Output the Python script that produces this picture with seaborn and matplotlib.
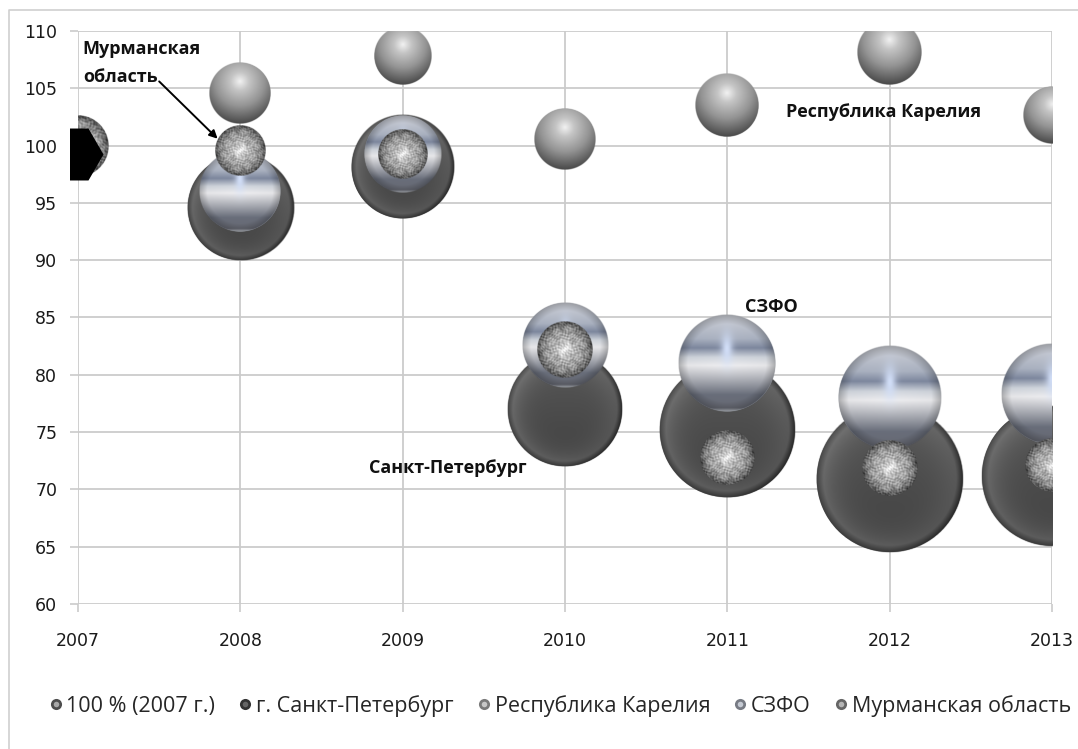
import numpy as np
import pandas as pd
import seaborn as sns
import matplotlib.pyplot as plt
from matplotlib.lines import Line2D
from matplotlib.patches import Rectangle
from matplotlib.legend_handler import HandlerTuple

# Данные диаграммы (индекс, 2007 = 100) и радиусы пузырьков в пикселях
years = [2007, 2008, 2009, 2010, 2011, 2012, 2013]
yticks = [60, 65, 70, 75, 80, 85, 90, 95, 100, 105, 110]

base_x = [2006.97]
base_y = [99.3]
base_r = [30]

spb_y = [None, 94.6, 98.1, 77.0, 75.2, 70.9, 71.2]
spb_r = [None, 53.5, 52, 58, 68.5, 74, 71]

kar_y = [None, 104.6, 107.8, 100.6, 103.5, 108.1, 102.7]
kar_r = [None, 31, 29, 31, 32, 32.5, 29]

szfo_y = [None, 96.0, 99.3, 82.6, 81.0, 78.0, 78.3]
szfo_r = [None, 41, 39, 43, 49, 52, 51]

mur_y = [100, 99.6, 99.3, 82.2, 72.8, 71.9, 72.1]
mur_r = [31, 25.5, 25, 28, 27.5, 28, 27]

legend_names = ['100 % (2007 г.)', 'г. Санкт-Петербург', 'Республика Карелия', 'СЗФО', 'Мурманская область']

W, H = 1078, 749
AX_L, AX_R, AX_T, AX_B = 78, 1052, 31, 604
px_x = (AX_R - AX_L) / 6
px_y = (AX_B - AX_T) / 50

sns.set_theme(style='white')
plt.rcParams['font.family'] = ['Open Sans', 'DejaVu Sans']


def sphere(kind, n=200):
    v, u = np.mgrid[1:-1:n * 1j, -1:1:n * 1j]
    r = np.sqrt(u ** 2 + v ** 2)
    if kind == 'spb':
        g = 0.3 + 0.16 * np.clip(r, 0, 1) ** 4 + 0.05 * v
        g = g - np.interp(r, [0.9, 1], [0, 0.2]) - 0.12 * np.clip(u, 0, 1) * r ** 6
        rgb = np.dstack([g, g, g])
    elif kind == 'kar':
        d = np.sqrt(u ** 2 + (v - 0.38) ** 2)
        g = np.interp(d, [0, 0.3, 0.8, 1.38], [0.95, 0.77, 0.58, 0.28])
        rgb = np.dstack([g, g, g])
    elif kind == 'szfo':
        pos = [-1, -0.92, -0.65, -0.05, 0.12, 0.31, 0.5, 1]
        col = np.array([[0.85, 0.87, 0.9], [0.42, 0.43, 0.47], [0.42, 0.44, 0.49], [0.93, 0.93, 0.94],
                        [0.82, 0.84, 0.87], [0.5, 0.54, 0.63], [0.68, 0.71, 0.77], [0.84, 0.85, 0.88]])
        rgb = np.dstack([np.interp(v, pos, col[:, i]) for i in range(3)])
        spot = np.exp(-(u / 0.12) ** 2 - ((v - 0.3) / 0.32) ** 2)[..., None]
        rgb = rgb * (1 - spot) + np.array([0.83, 0.88, 0.98]) * spot
        edge = np.interp(r, [0, 0.8, 1], [1, 0.97, 0.72])[..., None]
        rgb = rgb * edge
    else:
        # пятнистая текстура шара без случайных чисел
        t = (np.sin(19 * u + 6 * np.sin(7 * v)) * np.sin(17 * v + 5 * np.sin(8 * u))
             + 0.6 * np.sin(43 * u + 29 * v) * np.sin(37 * v - 23 * u))
        g = np.interp(r, [0, 0.3, 0.8, 1], [0.95, 0.74, 0.52, 0.3]) + 0.14 * t
        rgb = np.dstack([g, g, g])
    alpha = np.clip((1 - r) * n / 3, 0, 1)
    return np.dstack([np.clip(rgb, 0, 1), alpha])


fig = plt.figure(figsize=(W / 100, H / 100), dpi=100, facecolor='white')
ax = fig.add_axes([AX_L / W, 1 - AX_B / H, (AX_R - AX_L) / W, (AX_B - AX_T) / H])
ax.set_axisbelow(True)
ax.grid(True, color='#cbcbcb', linewidth=1.3)


def draw_series(vals, radii, kind, flat, z):
    df = pd.DataFrame({'year': years, 'val': vals, 'r': radii}).dropna()
    # площадь маркера в пт^2 из радиуса в пикселях, чуть меньше шара с текстурой
    sizes = (2 * (df['r'] - 1) * 0.72) ** 2
    sns.scatterplot(x=df['year'], y=df['val'], s=sizes, color=flat, linewidth=0, ax=ax, zorder=z, legend=False)
    img = sphere(kind)
    for x, y, r in zip(df['year'], df['val'], df['r']):
        dx, dy = r / px_x, r / px_y
        ax.imshow(img, extent=[x - dx, x + dx, y - dy, y + dy], aspect='auto', zorder=z + 0.1,
                  interpolation='bilinear')


draw_series(spb_y, spb_r, 'spb', '#444444', 3)
draw_series(kar_y, kar_r, 'kar', '#999999', 4)
draw_series(szfo_y, szfo_r, 'szfo', '#9a9fa8', 5)
draw_series(mur_y, mur_r, 'mur', '#888888', 6)

# чёрный шестиугольник ряда 100 %
sns.scatterplot(x=base_x, y=base_y, s=(2 * base_r[0] * 0.72) ** 2, color='black', marker='H',
                linewidth=0, ax=ax, zorder=7, legend=False)
ax.collections[-1].set_clip_path(Rectangle((70, 0), W, H, transform=None))

ax.set_xlim(2007, 2013)
ax.set_ylim(60, 110)
ax.set_xticks(years)
ax.set_yticks(yticks)
ax.set_xlabel('')
ax.set_ylabel('')
for lab in ax.get_xticklabels() + ax.get_yticklabels():
    lab.set_family(['DejaVu Sans'])
ax.tick_params(axis='x', length=6, width=1.2, color='#cbcbcb', pad=14, labelsize=12.5, labelcolor='#1a1a1a')
ax.tick_params(axis='y', length=6, width=1.2, color='#cbcbcb', pad=9, labelsize=12.5, labelcolor='#1a1a1a')
ax.tick_params(bottom=True, left=True)
sns.despine(ax=ax, top=True, right=True, left=True, bottom=True)

bold = dict(fontsize=13, fontweight='bold', color='#111111', zorder=10)
ax.text(2007.03, 108.4, 'Мурманская', va='center', ha='left', **bold)
ax.text(2007.03, 106.0, 'область', va='center', ha='left', **bold)
ax.text(2011.36, 102.9, 'Республика Карелия', va='center', ha='left', **bold)
ax.text(2011.11, 85.95, 'СЗФО', va='center', ha='left', **bold)
ax.text(2008.79, 71.9, 'Санкт-Петербург', va='center', ha='left', **bold)
ax.annotate('', xy=(2007.86, 100.6), xytext=(2007.5, 105.6), zorder=10,
            arrowprops=dict(arrowstyle='-|>', color='black', lw=1.4, shrinkA=0, shrinkB=0))

# легенда
outer = ['#4d4d4d', '#333333', '#7a7a7a', '#777b84', '#666666']
inner = ['#a8a8a8', '#666666', '#c8c8c8', '#c5cad3', '#b5b5b5']
handles = []
for o, i in zip(outer, inner):
    handles.append((Line2D([], [], ls='', marker='o', ms=8, mfc=o, mec='none'),
                    Line2D([], [], ls='', marker='o', ms=4, mfc=i, mec='none')))
fig.legend(handles, legend_names, handler_map={tuple: HandlerTuple(ndivide=1)}, ncol=5, frameon=False,
           loc='center', bbox_to_anchor=(558 / W, 1 - 706 / H), fontsize=15.5, labelcolor='#262626',
           columnspacing=0.9, handletextpad=0.0, handlelength=1.0, borderpad=0, borderaxespad=0)

# рамка области диаграммы
fig.add_artist(Line2D([9 / W, 9 / W, 1], [0, 1 - 10 / H, 1 - 10 / H], transform=fig.transFigure,
                      color='#cfcfcf', lw=1.2))

fig.savefig('out.png', dpi=100)
